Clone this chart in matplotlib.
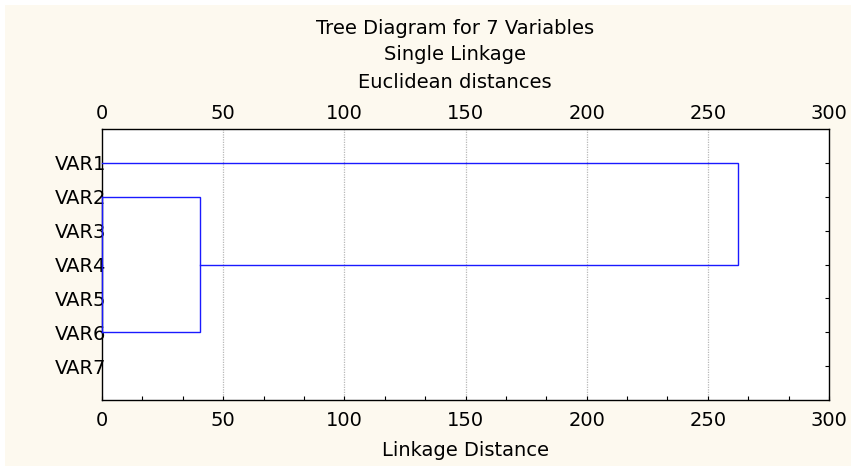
import matplotlib.pyplot as plt
from matplotlib.patches import Rectangle
from matplotlib.ticker import MultipleLocator

plt.rcParams["font.family"] = ["DejaVu Sans"]

variables = ["VAR1", "VAR2", "VAR3", "VAR4", "VAR5", "VAR6", "VAR7"]

# joins of the tree: upper stem, lower stem, linkage distance
join_upper = ["VAR2", "VAR4", "VAR2", "VAR1"]
join_lower = ["VAR4", "VAR6", "VAR6", "VAR4"]
join_dist = [0.0, 0.0, 40.6, 262.6]

x_ticks = [0, 50, 100, 150, 200, 250, 300]

bg = "#fdf9ef"
line_col = "#1a1aff"
fs = 14

fig = plt.figure(figsize=(8.51, 4.66), dpi=100)
fig.patch.set_facecolor("white")
fig.patches.append(Rectangle((5 / 851, 0), 1, 1 - 5 / 466, transform=fig.transFigure,
                             facecolor=bg, edgecolor="none", zorder=-10))

ax = fig.add_axes([102 / 851, 1 - 400 / 466, 727 / 851, 271 / 466])
ax.set_facecolor("white")

# draw the tree: each join links two stems, new stem sits halfway
pos = {v: i + 1 for i, v in enumerate(variables)}
height = {}
for a, b, d in zip(join_upper, join_lower, join_dist):
    ya, yb = pos[a], pos[b]
    ha, hb = height.get(ya, 0.0), height.get(yb, 0.0)
    ax.plot([ha, d, d, hb], [ya, ya, yb, yb], color=line_col, lw=1.0,
            solid_joinstyle="miter", zorder=3, clip_on=False)
    height[(ya + yb) / 2] = d

for x in x_ticks[1:-1]:
    ax.axvline(x, color="#b8b8b8", lw=0.9, ls=(0, (1, 1)), zorder=1)

ax.set_xlim(0, 300)
ax.set_ylim(8, 0)
ax.set_xticks(x_ticks)
ax.xaxis.set_minor_locator(MultipleLocator(50 / 3))
ax.set_yticks(range(1, len(variables) + 1))
ax.set_yticklabels(variables)

ax.tick_params(axis="x", which="both", direction="in", length=3, width=0.8,
               top=False, labelsize=fs, pad=8)
ax.tick_params(axis="y", direction="in", length=3, width=0.8, left=False,
               right=True, labelleft=True, labelsize=fs, pad=-3)
for s in ax.spines.values():
    s.set_linewidth(1.0)
    s.set_color("black")

# numbers along the top, without tick marks
top = ax.secondary_xaxis("top")
top.set_xticks(x_ticks)
top.tick_params(axis="x", length=0, labelsize=fs, pad=4)
top.spines["top"].set_visible(False)

ax.set_xlabel("Linkage Distance", fontsize=fs, labelpad=8)
fig.text(0.5347, 1 - 28 / 466, "Tree Diagram for 7 Variables", ha="center", va="center", fontsize=fs)
fig.text(0.5347, 1 - 55 / 466, "Single Linkage", ha="center", va="center", fontsize=fs)
fig.text(0.5347, 1 - 82 / 466, "Euclidean distances", ha="center", va="center", fontsize=fs)

fig.savefig("out.png", dpi=100, facecolor=fig.get_facecolor())
